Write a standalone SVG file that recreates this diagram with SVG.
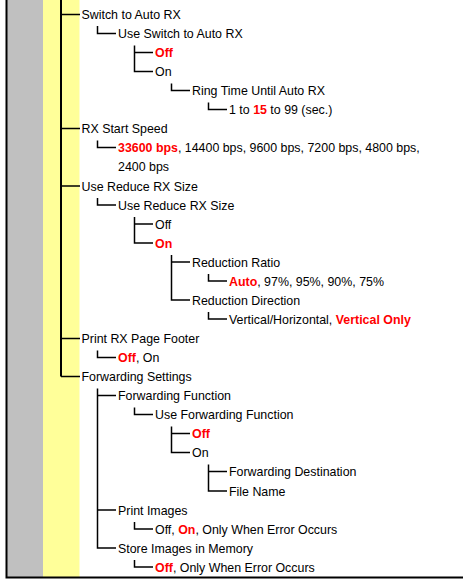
<svg xmlns="http://www.w3.org/2000/svg" width="463" height="579" viewBox="0 0 463 579">
<style>
text{font-family:"Liberation Sans",Arial,sans-serif;font-size:12.4px;fill:#000}
.r{fill:#FF0000;font-weight:bold}
.c{fill:none;stroke:#000;stroke-width:1.5}
.t{fill:none;stroke:#000;stroke-width:2}
</style>
<rect x="0" y="0" width="463" height="579" fill="#fff"/>
<g id="frame">
<rect x="7" y="0" width="36" height="577" fill="#C0C0C0"/>
<rect x="43" y="0" width="36.5" height="577" fill="#FFFF99"/>
<path d="M6.5 0V577.5H463" fill="none" stroke="#000" stroke-width="2"/>
</g>
<g id="connectors">
<path class="t" d="M61 0V376.5"/>
<path class="c" d="M61 14.5H80M61 128.5H80M61 186H80M61 338.5H80M61 376.5H80"/>
<path class="c" d="M97.5 26V33.5H116M97.5 140.5V147.5H116M97.5 198V205H116M97.5 350.5V357.5H116M97.5 388.5V548H116M97.5 395.5H116M97.5 510H116"/>
<path class="c" d="M134.5 45.5V71.5H153M134.5 52.5H153M134.5 217V243H153M134.5 224H153M134.5 407.5V414.5H153M134.5 522V529H153M134.5 560V567H153"/>
<path class="c" d="M171.5 83.5V90.5H190M171.5 255V300H190M171.5 262H190M171.5 426.5V452.5H190M171.5 433.5H190"/>
<path class="c" d="M208.5 102.5V109.5H227M208.5 274V281H227M208.5 312V319H227M208.5 464.5V491H227M208.5 471.5H227"/>
</g>
<g id="n1"><text x="81.5" y="19">Switch to Auto RX</text></g>
<g id="n2"><text x="118" y="38">Use Switch to Auto RX</text></g>
<g id="n3"><text x="155" y="57" class="r">Off</text></g>
<g id="n4"><text x="155" y="76">On</text></g>
<g id="n5"><text x="192" y="95">Ring Time Until Auto RX</text></g>
<g id="n6"><text x="229" y="114">1 to <tspan class="r">15</tspan> to 99 (sec.)</text></g>
<g id="n7"><text x="81.5" y="133">RX Start Speed</text></g>
<g id="n8"><text x="118" y="152"><tspan class="r">33600 bps</tspan>, 14400 bps, 9600 bps, 7200 bps, 4800 bps,</text><text x="118" y="171">2400 bps</text></g>
<g id="n10"><text x="81.5" y="190.5">Use Reduce RX Size</text></g>
<g id="n11"><text x="118" y="209.5">Use Reduce RX Size</text></g>
<g id="n12"><text x="155" y="228.5">Off</text></g>
<g id="n13"><text x="155" y="247.5" class="r">On</text></g>
<g id="n14"><text x="192" y="266.5">Reduction Ratio</text></g>
<g id="n15"><text x="229" y="285.5"><tspan class="r">Auto</tspan>, 97%, 95%, 90%, 75%</text></g>
<g id="n16"><text x="192" y="304.5">Reduction Direction</text></g>
<g id="n17"><text x="229" y="323.5">Vertical/Horizontal, <tspan class="r">Vertical Only</tspan></text></g>
<g id="n18"><text x="81.5" y="343">Print RX Page Footer</text></g>
<g id="n19"><text x="118" y="362"><tspan class="r">Off</tspan>, On</text></g>
<g id="n20"><text x="81.5" y="381">Forwarding Settings</text></g>
<g id="n21"><text x="118" y="400">Forwarding Function</text></g>
<g id="n22"><text x="155" y="419">Use Forwarding Function</text></g>
<g id="n23"><text x="192" y="438" class="r">Off</text></g>
<g id="n24"><text x="192" y="457">On</text></g>
<g id="n25"><text x="229" y="476">Forwarding Destination</text></g>
<g id="n26"><text x="229" y="495.5">File Name</text></g>
<g id="n27"><text x="118" y="514.5">Print Images</text></g>
<g id="n28"><text x="155" y="533.5">Off, <tspan class="r">On</tspan>, Only When Error Occurs</text></g>
<g id="n29"><text x="118" y="552.5">Store Images in Memory</text></g>
<g id="n30"><text x="155" y="571.5"><tspan class="r">Off</tspan>, Only When Error Occurs</text></g>
</svg>
